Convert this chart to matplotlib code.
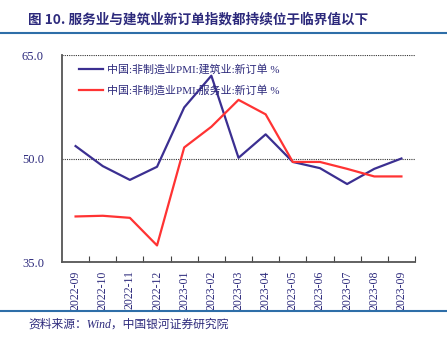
import matplotlib.pyplot as plt
import numpy as np

months = ['2022-09', '2022-10', '2022-11', '2022-12', '2023-01', '2023-02', '2023-03',
          '2023-04', '2023-05', '2023-06', '2023-07', '2023-08', '2023-09']
construction = [51.8, 48.9, 46.9, 48.8, 57.4, 62.0, 50.1, 53.5, 49.5, 48.6, 46.3, 48.5, 50.0]
services = [41.6, 41.7, 41.4, 37.4, 51.6, 54.6, 58.5, 56.4, 49.5, 49.5, 48.5, 47.4, 47.4]
yticks = [35.0, 50.0, 65.0]

navy = '#2d2a7c'
serif_cjk = ['Liberation Serif', 'Noto Sans CJK SC']

fig = plt.figure(figsize=(4.47, 3.39), dpi=100)
ax = fig.add_axes([62/447, 1-262/339, (415-62)/447, (262-55)/339])

x = np.arange(len(months))
ax.plot(x, construction, color='#3b2f91', lw=1.6, label='中国:非制造业PMI:建筑业:新订单 %')
ax.plot(x, services, color='#ff3333', lw=1.6, label='中国:非制造业PMI:服务业:新订单 %')

ax.set_xlim(-0.5, len(months) - 0.5)
ax.set_ylim(35, 65)
ax.set_yticks(yticks)
ax.set_yticklabels(['%.1f' % v for v in yticks], family='Liberation Serif', fontsize=9, color=navy)
ax.tick_params(axis='y', length=0, pad=13)

# category boundaries carry the ticks, labels sit in the middle
ax.set_xticks(np.arange(len(months)) + 0.5)
ax.set_xticklabels([])
ax.set_xticks(x, minor=True)
ax.set_xticklabels(months, minor=True, rotation=90, family='Liberation Serif', fontsize=8.5, color=navy)
ax.tick_params(axis='x', which='major', direction='in', length=4, color='#444444')
ax.tick_params(axis='x', which='minor', length=0, pad=6)

ax.grid(True, axis='y', ls=(0, (1, 1)), lw=0.8, color='#333333')
for s in ['top', 'right']:
    ax.spines[s].set_visible(False)
for s in ['left', 'bottom']:
    ax.spines[s].set_color('#555555')
    ax.spines[s].set_linewidth(1.3)

leg = ax.legend(loc='upper left', frameon=False, prop={'family': serif_cjk, 'size': 7.9},
                handlelength=2.2, handletextpad=0.4, labelspacing=1.0,
                bbox_to_anchor=(0.02, 1.005))
for t in leg.get_texts():
    t.set_color(navy)

fig.text(28/447, 1-19/339, '图 10. 服务业与建筑业新订单指数都持续位于临界值以下',
         family='Noto Sans CJK SC', fontweight='bold', fontsize=9.8, color=navy, va='center')
fig.add_artist(plt.Line2D([0, 1], [1-33/339, 1-33/339], color='#2e6ea8', lw=1.5))
fig.add_artist(plt.Line2D([0, 1], [1-311/339, 1-311/339], color='#2e6ea8', lw=1.5))
fig.text(28/447, 1-325/339, '资料来源：Wind，中国银河证券研究院',
         family=serif_cjk, style='italic', fontsize=8.5, color=navy, va='center')

fig.savefig('out.png', dpi=100)
